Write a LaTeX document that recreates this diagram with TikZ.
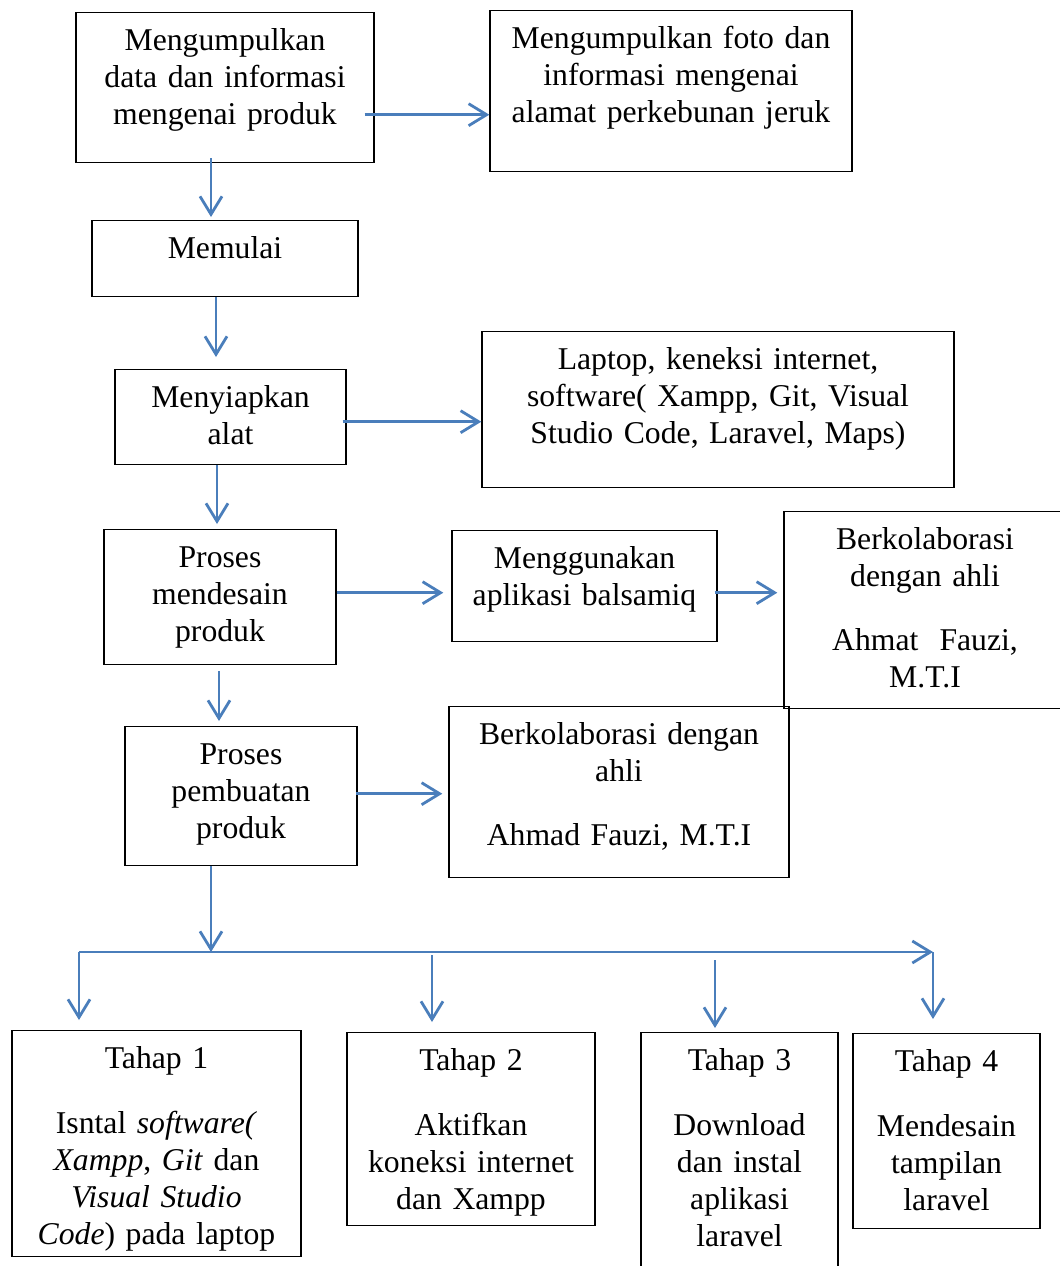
\documentclass[tikz,border=0pt]{standalone}
\usepackage{fontspec}
\setmainfont{Liberation Serif}
\usetikzlibrary{arrows.meta,calc}

\definecolor{arrowblue}{RGB}{74,126,187}

\begin{document}
\begin{tikzpicture}[
		x=0.5pt,
		y=-0.5pt,
		font=\fontsize{15.85}{18.5}\selectfont,
		>={Straight Barb[length=9pt,width=11pt]},
		box/.style={draw,line width=0.7pt,align=center,anchor=north,inner xsep=0pt,inner ysep=8pt,text height=11pt},
		flow/.style={->,arrowblue,line width=1.4pt}
		]
		\useasboundingbox (0,0) rectangle (1060,1266);
		
		% =====================================================
		% Preparation
		% =====================================================
		\node[box,text width=149pt,text depth=48pt] (data) at (225,12)
		{Mengumpulkan\\data dan informasi\\mengenai produk};
		
		\node[box,text width=181pt,text depth=53.5pt] (foto) at (671,10)
		{Mengumpulkan foto dan\\informasi mengenai\\alamat perkebunan jeruk};
		
		\node[box,text width=133pt,text depth=11pt] (mulai) at (225,220) {Memulai};
		
		\node[box,text width=115.5pt,text depth=20.5pt] (alat) at (230.5,369)
		{Menyiapkan\\alat};
		
		\node[box,text width=236pt,text depth=51pt] (laptop) at (718,331)
		{Laptop, keneksi internet,\\software( Xampp, Git, Visual\\Studio Code, Laravel, Maps)};
		
		% =====================================================
		% Design and build
		% =====================================================
		\node[box,text width=116pt,text depth=40.5pt] (desain) at (220,529)
		{Proses\\mendesain\\produk};
		
		\node[box,text width=132.5pt,text depth=28.5pt] (balsamiq) at (584.5,530)
		{Menggunakan\\aplikasi balsamiq};
		
		\node[box,text width=141pt,text depth=71.5pt] (ahli1) at (925,511)
		{Berkolaborasi\\dengan ahli\\[13.5pt]Ahmat~~Fauzi,\\M.T.I};
		
		\node[box,text width=116pt,text depth=42.5pt] (buat) at (241,726)
		{Proses\\pembuatan\\produk};
		
		\node[box,text width=170pt,text depth=58.5pt] (ahli2) at (619,706)
		{Berkolaborasi dengan\\ahli\\[13.5pt]Ahmad Fauzi, M.T.I};
		
		% =====================================================
		% Stages
		% =====================================================
		\node[box,text width=144.5pt,text depth=86pt] (tahap1) at (156.5,1030)
		{Tahap 1\\[14pt]Isntal \textit{software(}\\\textit{Xampp}, \textit{Git} dan\\\textit{Visual Studio}\\\textit{Code}) pada laptop};
		
		\node[box,text width=124pt,text depth=69.5pt] (tahap2) at (471,1032)
		{Tahap 2\\[14pt]Aktifkan\\koneksi internet\\dan Xampp};
		
		\node[box,text width=98.5pt,text depth=97pt] (tahap3) at (739.5,1032)
		{Tahap 3\\[14pt]Download\\dan instal\\aplikasi\\laravel};
		
		\node[box,text width=93.5pt,text depth=70.5pt] (tahap4) at (946.5,1033)
		{Tahap 4\\[14pt]Mendesain\\tampilan\\laravel};
		
		% arrows between steps
		\draw[flow] ([shift={(-10,27)}]data.east) -- ([shift={(0,23.5)}]foto.west);
		\draw[flow] ([shift={(-14,-5)}]data.south) -- ([shift={(-14,-3)}]mulai.north);
		\draw[flow] ([shift={(-9,0)}]mulai.south) -- ([shift={(-14.5,-12)}]alat.north);
		\draw[flow] ([shift={(-4,4.5)}]alat.east) -- ([shift={(0,12)}]laptop.west);
		\draw[flow] ([shift={(-13.5,0)}]alat.south) -- ([shift={(-3,-5)}]desain.north);
		\draw[flow] ([shift={(0,-4.5)}]desain.east) -- ([shift={(-8,6.5)}]balsamiq.west);
		\draw[flow] ([shift={(-3,6.5)}]balsamiq.east) -- ([shift={(-6,-17.5)}]ahli1.west);
		\draw[flow] ([shift={(-1,6)}]desain.south) -- ([shift={(-22,-5)}]buat.north);
		\draw[flow] ([shift={(-2,-2.5)}]buat.east) -- ([shift={(-6,1.5)}]ahli2.west);
		
		% =====================================================
		% Branch to the stages
		% =====================================================
		\coordinate (split) at (211,952);
		\coordinate (hl) at (79,952);
		\coordinate (hr) at (933,952);
		\coordinate (c2) at (432,955);
		\coordinate (c3) at (715,960);
		
		\draw[flow] (buat.south -| split) -- (split);
		\draw[flow] (hl) -- (hr);
		\draw[flow,shorten >=5pt] (hl) -- (hl |- tahap1.north);
		\draw[flow,shorten >=5pt] (c2) -- (c2 |- tahap2.north);
		\draw[flow,shorten >=2pt] (c3) -- (c3 |- tahap3.north);
		\draw[flow,shorten >=7pt] (hr) -- (hr |- tahap4.north);
		
	\end{tikzpicture}
\end{document}
